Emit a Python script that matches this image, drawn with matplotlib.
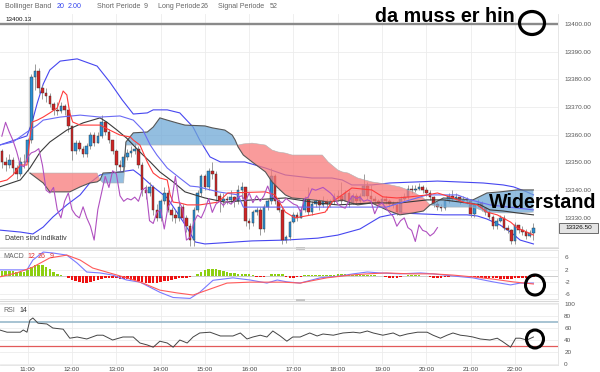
import numpy as np
import matplotlib
matplotlib.use("Agg")
import matplotlib.pyplot as plt
from matplotlib.patches import Ellipse, Rectangle

plt.rcParams['font.family'] = ['Liberation Sans', 'DejaVu Sans']

# ---------------- data ----------------
candle_start = "10:25"      # 5-minute candles
first_open = 13354.0
closes = [13350, 13349, 13351, 13348, 13346, 13350, 13350, 13358, 13381, 13383,
          13377, 13375, 13374, 13371, 13369, 13368.5, 13370.5, 13369, 13363, 13354,
          13357, 13355, 13353, 13356, 13360, 13357, 13359.5, 13364.5, 13361, 13358,
          13354, 13349, 13348.5, 13352, 13353.5, 13354, 13355, 13349, 13340, 13339,
          13341, 13333, 13330, 13336, 13339, 13333, 13331, 13330, 13334, 13330,
          13327, 13322, 13333, 13339, 13345, 13341, 13347, 13346, 13338, 13336,
          13337, 13336.5, 13337.5, 13336, 13340, 13341, 13329, 13328, 13332, 13333,
          13326, 13334, 13336, 13345, 13336, 13333, 13322, 13323, 13328.5, 13331,
          13330, 13333, 13337, 13332, 13335, 13336, 13334.5, 13336, 13335, 13336,
          13337.5, 13338, 13336, 13339, 13335.5, 13338, 13336, 13338, 13341.5, 13338,
          13337, 13336, 13335.5, 13337, 13336, 13335, 13334.5, 13332, 13337, 13337.5,
          13340.5, 13340, 13340.5, 13341, 13340, 13339, 13337.5, 13335, 13334, 13333.5,
          13336, 13338, 13337, 13337.5, 13336, 13336.5, 13336, 13331.5, 13334.5, 13335.5,
          13333.5, 13332, 13330.5, 13327, 13329, 13330, 13326.5, 13325.5, 13321.5, 13327.5,
          13325.5, 13325, 13323.5, 13324.5, 13326.5]
highs = [13355, 13352, 13353, 13352, 13349, 13352, 13353, 13359, 13382, 13385.5,
         13384, 13378, 13377, 13375, 13372, 13372, 13372, 13371, 13369, 13363,
         13358, 13358, 13356, 13357, 13361, 13361, 13361, 13367, 13365, 13362,
         13358, 13355, 13351, 13353, 13355, 13356, 13357, 13356, 13350, 13342,
         13343, 13342, 13335, 13337, 13341, 13340, 13334, 13333, 13336, 13335,
         13331, 13328, 13334, 13340, 13346, 13346, 13348, 13350, 13347, 13339,
         13339, 13338, 13340, 13338, 13342, 13343, 13341, 13330, 13333, 13334,
         13334, 13335, 13337, 13348, 13346, 13337, 13334, 13324, 13329, 13332,
         13332, 13334, 13338, 13341, 13336, 13337, 13337, 13338, 13337, 13337,
         13339, 13340, 13343, 13340, 13340, 13339, 13339, 13339, 13346, 13343,
         13342, 13338, 13337, 13338, 13338, 13337, 13336, 13336, 13338, 13339,
         13342, 13342, 13342, 13342.5, 13342, 13341, 13340, 13338, 13336, 13335,
         13337, 13339, 13340, 13339, 13338, 13338, 13337.5, 13336.5, 13335.5, 13337,
         13336, 13334, 13333, 13331, 13330, 13331, 13331, 13327.5, 13326, 13328.5,
         13327.5, 13327, 13326, 13325.5, 13328]
lows = [13348, 13347, 13348, 13346, 13344, 13345, 13348, 13347, 13357, 13376,
        13375, 13373, 13372, 13370, 13367, 13367, 13368, 13367, 13361, 13351,
        13353, 13354, 13352, 13352, 13355, 13356, 13357, 13359, 13360, 13357,
        13353, 13347, 13347, 13348, 13351, 13352, 13353, 13348, 13338, 13337,
        13338, 13331, 13329, 13329, 13335, 13332, 13329, 13328, 13329, 13329,
        13325, 13320, 13320, 13332, 13338, 13340, 13340, 13344, 13336, 13332,
        13334, 13335, 13335, 13334, 13335, 13337, 13327, 13326, 13327, 13331,
        13324, 13325, 13333, 13335, 13335, 13332, 13320.5, 13321, 13322, 13328,
        13329, 13330, 13332, 13331, 13331, 13334, 13333, 13334, 13333, 13334,
        13335, 13336, 13335, 13336, 13334, 13335, 13335, 13335, 13338, 13337,
        13336, 13335, 13334.5, 13335, 13335, 13334, 13333.5, 13331, 13331.5, 13336,
        13337, 13339, 13339.5, 13340, 13339, 13338, 13336.5, 13334, 13333, 13332.5,
        13333, 13335.5, 13336, 13336, 13335, 13335.5, 13335, 13330.5, 13330.5, 13334,
        13332.5, 13331, 13329.5, 13326, 13326, 13328.5, 13325.5, 13324.5, 13320.5, 13320.5,
        13324.5, 13324, 13322.5, 13323, 13322]

bb_upper_t = ["10:22", "10:59", "11:06", "11:13", "11:21", "11:30", "11:44", "12:07", "12:34", "12:51",
              "13:08", "13:23", "13:42", "13:50", "14:09", "14:26", "14:44", "14:53", "15:07", "15:21",
              "15:54", "16:22", "16:49", "17:25", "17:52", "18:06", "18:19", "18:46", "19:10", "19:48",
              "20:15", "20:42", "21:17", "21:44", "21:58", "22:16", "22:25"]
bb_upper_v = [13356.3, 13359.6, 13364.6, 13371.5, 13378.3, 13383.4, 13386.6, 13387.4, 13384.8, 13379.1,
              13372.6, 13367.5, 13367.9, 13369.0, 13369.0, 13367.9, 13362.8, 13358.1, 13352.0, 13350.2,
              13350.2, 13348.0, 13345.5, 13344.4, 13344.4, 13343.7, 13341.9, 13341.9, 13342.6, 13343.0,
              13343.3, 13343.0, 13342.6, 13341.9, 13341.2, 13339.4, 13338.3]
bb_mid_t = ["10:22", "10:50", "11:03", "11:17", "11:30", "11:53", "12:15", "12:38", "12:47", "13:01",
            "13:14", "13:32", "13:46", "13:59", "14:17", "14:33", "15:00", "15:27", "16:04", "16:49",
            "17:33", "18:00", "18:46", "19:24", "20:01", "20:23", "20:55", "21:13", "21:26", "21:44",
            "22:03", "22:25"]
bb_mid_v = [13341.2, 13343.7, 13348.0, 13353.8, 13357.4, 13361.7, 13364.3, 13366.1, 13364.6, 13361.7,
            13358.8, 13353.8, 13350.2, 13346.6, 13343.0, 13339.4, 13337.2, 13335.7, 13336.5, 13337.2,
            13335.4, 13334.7, 13335.4, 13335.4, 13336.5, 13336.5, 13335.4, 13334.7, 13332.9, 13332.5,
            13331.8, 13331.1]
bb_lower_t = ["10:22", "10:50", "11:07", "11:21", "11:34", "11:53", "12:11", "12:24", "12:38", "13:05",
              "13:23", "13:32", "13:50", "14:09", "14:22", "14:36", "14:47", "15:00", "16:04", "16:49",
              "17:33", "18:00", "18:30", "18:57", "19:24", "19:48", "20:23", "20:55", "21:09", "21:22",
              "21:40", "21:54", "22:07", "22:25"]
bb_lower_v = [13325.6, 13324.9, 13324.2, 13326.7, 13330.3, 13334.7, 13338.3, 13342.6, 13345.5, 13346.6,
              13347.3, 13345.5, 13341.2, 13337.2, 13332.1, 13326.4, 13321.3, 13320.6, 13321.7, 13322.0,
              13322.7, 13323.8, 13326.0, 13330.3, 13331.8, 13331.5, 13331.1, 13331.1, 13330.7, 13329.6,
              13327.4, 13324.9, 13322.0, 13320.6]

tenkan_t = ["10:22", "10:32", "10:40", "10:50", "10:59", "11:03", "11:06", "11:13", "11:21", "11:30",
            "11:40", "11:48", "11:53", "11:55", "11:57", "12:01", "12:11", "12:28", "12:38", "12:51",
            "13:05", "13:19", "13:23", "13:32", "13:42", "13:50", "13:59", "14:09", "14:13", "14:17",
            "14:26", "14:36", "14:53", "15:18", "15:31", "16:22", "16:35", "16:49", "17:02", "17:25",
            "17:43", "17:52", "18:06", "18:19", "18:46", "19:01", "19:20", "19:38", "20:01", "20:15",
            "20:32", "20:50", "21:09", "21:22", "21:36", "21:54", "22:03", "22:16", "22:25"]
tenkan_v = [13343.0, 13343.7, 13345.5, 13349.1, 13349.1, 13358.8, 13364.6, 13365.3, 13366.4, 13367.9,
            13369.7, 13375.8, 13374.4, 13371.1, 13367.9, 13364.6, 13363.5, 13363.5, 13363.5, 13361.7,
            13359.9, 13359.2, 13358.1, 13356.3, 13350.2, 13346.2, 13344.4, 13343.7, 13338.3, 13335.7,
            13335.4, 13334.7, 13334.7, 13335.7, 13339.0, 13339.4, 13338.3, 13332.1, 13330.0, 13331.1,
            13332.1, 13335.7, 13338.3, 13340.8, 13340.1, 13337.6, 13337.2, 13337.6, 13338.3, 13339.0,
            13337.6, 13335.7, 13334.7, 13332.1, 13331.1, 13328.5, 13326.4, 13324.9, 13323.8]
kijun_t = ["10:22", "10:40", "10:59", "11:13", "11:21", "11:44", "12:11", "12:38", "13:05", "13:23",
           "13:36", "13:46", "13:55", "14:09", "14:26", "14:40", "14:51", "15:18", "15:45", "15:52",
           "16:49", "17:20", "18:44", "19:06", "19:28", "20:01", "20:42", "21:00", "21:26", "22:25"]
kijun_v = [13356.3, 13357.4, 13361.0, 13363.5, 13365.3, 13366.4, 13367.1, 13366.4, 13366.8, 13365.3,
           13361.7, 13356.3, 13352.7, 13348.0, 13344.4, 13341.5, 13341.2, 13339.4, 13338.3, 13333.9,
           13333.9, 13333.9, 13333.9, 13333.9, 13335.7, 13338.3, 13338.3, 13336.5, 13334.7, 13332.9]
chikou_shift = 26

span_t = ["11:03", "11:21", "11:30", "11:57", "12:11", "12:24", "12:34", "12:38", "12:42", "13:10",
          "13:13", "13:23", "13:42", "13:50", "13:59", "14:09", "14:22", "14:33", "15:00", "15:10",
          "15:27", "15:37", "15:41", "15:45", "15:52", "16:04", "16:22", "16:31", "16:39", "16:49",
          "16:58", "17:12", "17:25", "17:39", "17:47", "18:00", "18:06", "18:14", "18:27", "18:46",
          "19:06", "19:24", "19:42", "19:56", "20:05", "20:23", "21:03", "21:22", "21:40", "22:03",
          "22:25"]
span_a = [13346.2, 13342.6, 13339.4, 13339.4, 13341.2, 13342.6, 13343.0, 13343.7, 13346.2, 13346.6,
          13357.4, 13360.7, 13361.0, 13362.8, 13366.1, 13365.3, 13364.3, 13363.5, 13363.2, 13362.5,
          13361.7, 13359.9, 13358.1, 13355.6, 13352.7, 13350.2, 13346.6, 13343.0, 13340.8, 13338.3,
          13337.2, 13336.9, 13336.5, 13336.1, 13335.7, 13336.1, 13336.5, 13335.7, 13334.7, 13335.4,
          13332.9, 13331.1, 13331.8, 13332.5, 13334.7, 13337.2, 13336.5, 13339.0, 13339.4, 13340.1,
          13340.1]
span_b = [13346.2, 13346.2, 13346.2, 13346.2, 13346.2, 13346.2, 13346.2, 13343.7, 13342.6, 13342.6,
          13356.3, 13356.3, 13356.3, 13356.3, 13356.3, 13356.3, 13356.3, 13356.3, 13356.3, 13356.3,
          13356.3, 13356.3, 13356.3, 13356.3, 13356.7, 13357.0, 13356.3, 13354.5, 13353.8, 13353.4,
          13352.7, 13352.7, 13352.7, 13352.7, 13350.2, 13347.3, 13346.6, 13346.2, 13344.4, 13343.0,
          13342.2, 13341.2, 13339.4, 13337.2, 13334.7, 13333.9, 13333.9, 13332.1, 13331.8, 13331.8,
          13332.1]

macd_t = ["10:22", "10:59", "11:07", "11:21", "11:34", "11:53", "12:07", "12:20", "12:38", "12:55",
          "13:14", "13:32", "13:46", "13:59", "14:17", "14:40", "14:53", "15:11", "15:38", "16:01",
          "16:15", "16:24", "16:38", "16:51", "17:09", "17:36", "18:03", "18:21", "18:40", "18:57",
          "19:24", "19:52", "20:09", "20:36", "21:03", "21:30", "21:54", "22:07", "22:25"]
macd_v = [1.9, 1.9, 5.1, 7.7, 7.4, 6.7, 4.1, 1.2, 0.9, 0.2,
          -1.4, -2.1, -3.8, -5.4, -7.1, -7.4, -5.4, -1.5, -0.7, -1.4,
          -2.0, -2.4, -1.4, -2.0, -2.4, -0.7, -0.1, 0.6, 1.2, 0.9,
          0.6, 0.9, 0.6, -0.1, -0.7, -2.0, -3.0, -2.4, -2.4]
signal_t = ["10:22", "10:45", "11:07", "11:30", "11:53", "12:11", "12:28", "12:51", "13:14", "13:36",
            "13:59", "14:22", "14:44", "15:03", "15:30", "16:01", "16:24", "16:46", "17:09", "17:45",
            "18:17", "18:40", "19:06", "19:38", "20:09", "20:36", "21:03", "21:30", "21:57", "22:25"]
signal_v = [-0.4, 0.9, 2.8, 5.8, 6.7, 5.1, 2.5, 0.9, -0.7, -2.4,
            -4.7, -5.6, -6.3, -4.7, -2.4, -2.1, -2.1, -2.1, -2.4, -0.7,
            0.2, 0.6, 0.9, 0.6, 0.6, 0.2, -0.4, -1.1, -2.0, -2.7]
macd_hist = [1.6, 1.5, 1.4, 1.4, 1.2, 1.2, 1.3, 1.8, 2.7, 3.4, 3.6, 3.4, 2.7, 2.1, 1.2, 0.5, 0.1,
             -0.2, -0.6, -1.3, -1.8, -2.2, -2.5, -2.4, -2.1, -1.8, -1.4, -1.1, -0.9, -0.8, -0.8, -0.9, -1.0,
             -1.1, -1.2, -1.3, -1.5, -1.8, -2.2, -2.4, -2.5, -2.5, -2.3, -2.0, -1.8, -1.6, -1.3, -1.1, -0.9,
             -0.8, -0.6, -0.4, -0.2,
             0.5, 1.2, 1.7, 2.1, 2.3, 2.3, 2.0, 1.6, 1.3, 1.0, 0.9, 0.7, 0.6, 0.5, 0.5, 0.3,
             -0.3, -0.4, -0.4, -0.1, 0.4, 0.7, 0.7, 0.4, -0.3, -0.6, -0.6, -0.5,
             -0.3, 0.1, 0.2, 0.3, 0.3, 0.3, 0.3, 0.3, 0.3, 0.3,
             0.6, 0.7, 0.7, 0.5, 0.3, 0.3, 0.2, 0.2, 0.2, 0.1,
             0.1, 0.0, -0.2, -0.4, -0.6, -0.7, -0.6, -0.4,
             0.0, 0.1, 0.1, 0.1, 0.1, 0.0, 0.0,
             -0.3, -0.6, -0.7, -0.6, -0.5, -0.3,
             -0.1, 0.0, 0.0, -0.1, -0.2,
             -0.4, -0.5, -0.6, -0.7, -0.8, -0.8, -0.9, -0.9, -1.0, -1.0, -1.0, -1.0, -0.9, -0.9, -0.8,
             -0.7, -0.6, -0.5]

rsi_t = ["10:22", "10:32", "10:40", "10:50", "10:54", "10:59", "11:03", "11:07", "11:14", "11:26",
         "11:34", "11:48", "11:57", "12:07", "12:20", "12:34", "12:42", "12:55", "13:09", "13:23",
         "13:32", "13:42", "13:50", "13:59", "14:09", "14:17", "14:26", "14:36", "14:44", "14:53",
         "15:07", "15:21", "15:38", "15:48", "15:57", "16:05", "16:15", "16:24", "16:32", "16:42",
         "16:51", "16:59", "17:09", "17:22", "17:32", "17:40", "17:54", "18:07", "18:21", "18:30",
         "18:40", "18:48", "19:01", "19:15", "19:24", "19:34", "19:48", "20:01", "20:09", "20:19",
         "20:28", "20:36", "20:46", "20:55", "21:03", "21:13", "21:26", "21:36", "21:44", "21:54",
         "22:01", "22:07", "22:16", "22:25"]
rsi_v = [56.7, 53, 53, 53, 56.7, 53, 73, 76.7, 68, 66.7,
         60, 58, 43, 45, 41.7, 48, 48, 40, 45, 45,
         35, 31.7, 28, 38, 35, 28, 40, 35, 45, 51.7,
         53, 46.7, 46.7, 51.7, 41.7, 45, 48, 45, 55, 46.7,
         38, 45, 45, 51.7, 46.7, 50, 48, 51.7, 53, 51.7,
         55, 51.7, 48, 51.7, 46.7, 50, 53, 53, 48, 43,
         48, 51.7, 48, 46.7, 45, 41.7, 40, 43, 36.7, 28,
         43, 43, 40, 45]

price_ticks = [13330, 13340, 13350, 13360, 13370, 13380, 13390, 13400]
macd_ticks = [6, 2, -2, -6]
rsi_ticks = [0, 20, 40, 60, 80, 100]
hour_ticks = list(range(11, 23))
ref_line = 13400.13


def hm(s):
    h, m = s.split(":")
    return int(h) + int(m) / 60.0


def hours(lst):
    return np.array([hm(s) for s in lst])


# ---------------- layout ----------------
W, H = 600, 372
fig = plt.figure(figsize=(6, 3.72), dpi=100)
fig.patch.set_facecolor("white")


def box(x0, y0, x1, y1):
    return [x0 / W, 1 - y1 / H, (x1 - x0) / W, (y1 - y0) / H]


ax = fig.add_axes(box(0, 14, 558, 247))
axm = fig.add_axes(box(0, 250, 558, 299))
axr = fig.add_axes(box(0, 303, 558, 365))

xlim = (10.3747, 22.971)
grid_c = "#ececec"
lab_c = "#555555"
for a in (ax, axm, axr):
    a.set_xlim(*xlim)
    a.set_xticks(hour_ticks)
    a.grid(True, color=grid_c, lw=0.6)
    a.set_axisbelow(True)
    a.yaxis.tick_right()
    a.tick_params(axis="y", length=0, pad=4.5, labelsize=4.6, labelcolor=lab_c)
    a.tick_params(axis="x", length=0)
    for s in a.spines.values():
        s.set_color("#e2e2e2")
        s.set_linewidth(0.6)
    a.spines["left"].set_visible(False)
for a in (ax, axm):
    a.tick_params(axis="x", labelbottom=False)
axr.set_xticklabels([f"{h}:00" for h in hour_ticks])
axr.tick_params(axis="x", labelsize=4.6, labelcolor="#444444", pad=1.2)
ax.spines["top"].set_visible(False)

# ---------------- main panel ----------------
ax.set_ylim(13319.5, 13403.6)
ax.set_yticks(price_ticks)
ax.set_yticklabels([f"{v:.2f}" for v in price_ticks])
ax.axhline(ref_line, color="#8a8a8a", lw=1.7, zorder=1)

blue = "#4646f0"
ax.plot(hours(bb_upper_t), bb_upper_v, color=blue, lw=0.8, zorder=2)
ax.plot(hours(bb_lower_t), bb_lower_v, color=blue, lw=0.8, zorder=2)

n = len(closes)
c = np.array(closes, float)
o = np.concatenate([[first_open], c[:-1]])
hi = np.maximum(np.array(highs, float), np.maximum(o, c))
lo = np.minimum(np.array(lows, float), np.minimum(o, c))
tc = hm(candle_start) + np.arange(n) * 5 / 60.0
up = c >= o
blo = np.minimum(o, c)
bh = np.maximum(np.abs(c - o), 0.3)
ax.vlines(tc, lo, hi, color="#8c8c8c", lw=0.6, zorder=3)
ax.bar(tc[up], bh[up], bottom=blo[up], width=0.058, color="#2a8fd4",
       edgecolor="#333333", linewidth=0.3, zorder=4)
ax.bar(tc[~up], bh[~up], bottom=blo[~up], width=0.058, color="#cf2424",
       edgecolor="#333333", linewidth=0.3, zorder=4)

st = hours(span_t)
sa = np.array(span_a)
sb = np.array(span_b)
ax.fill_between(st, sa, sb, where=sa >= sb, interpolate=True, color="#6fa8d6",
                alpha=0.75, lw=0, zorder=5)
ax.fill_between(st, sa, sb, where=sa < sb, interpolate=True, color="#f77a7a",
                alpha=0.75, lw=0, zorder=5)
ax.plot(st, sb, color="#b0b0b0", lw=0.4, zorder=5)
ax.plot(st, sa, color="#555555", lw=0.8, zorder=6)

ax.plot(hours(bb_mid_t), bb_mid_v, color="#3a3a3a", lw=0.8, zorder=7)
ax.plot(hours(kijun_t), kijun_v, color="#6a6af5", lw=0.8, zorder=7)
ax.plot(hours(tenkan_t), tenkan_v, color="#ff3b3b", lw=0.8, zorder=7)
ax.plot(tc[:-chikou_shift], c[chikou_shift:], color="#b050c0", lw=0.8, zorder=7)

# ---------------- MACD ----------------
axm.set_ylim(-7.59, 8.37)
axm.set_yticks(macd_ticks)
axm.set_yticklabels([str(v) for v in macd_ticks])
axm.axhline(0, color="#c4c4c4", lw=0.6, zorder=1)
hv = np.array(macd_hist)
axm.bar(tc, hv, width=0.058, color=np.where(hv >= 0, "#8ccf10", "#ee1111"), lw=0, zorder=2)
axm.plot(hours(macd_t), macd_v, color="#7a7aff", lw=0.8, zorder=3)
axm.plot(hours(signal_t), signal_v, color="#ff5a5a", lw=0.8, zorder=3)

# ---------------- RSI ----------------
axr.set_ylim(-1.67, 101.67)
axr.set_yticks(rsi_ticks)
axr.set_yticklabels([str(v) for v in rsi_ticks])
axr.axhline(70, color="#8fb3c6", lw=1.1, zorder=1)
axr.axhline(30, color="#e25a5a", lw=0.9, zorder=1)
axr.plot(hours(rsi_t), rsi_v, color="#444444", lw=0.7, zorder=3)

# ---------------- overlay: texts & annotations ----------------
ov = fig.add_axes([0, 0, 1, 1], zorder=10)
ov.set_xlim(0, W)
ov.set_ylim(H, 0)
ov.axis("off")
ov.patch.set_alpha(0)

g = "#666666"
b2 = "#3344ee"
fs = 5.1
ov.text(5, 6.5, "Bollinger Band", color=g, fontsize=fs, va="center")
ov.text(57, 6.5, "20", color=b2, fontsize=fs, va="center")
ov.text(68, 6.5, "2.00", color=b2, fontsize=fs, va="center")
ov.text(97, 6.5, "Short Periode", color=g, fontsize=fs, va="center")
ov.text(144, 6.5, "9", color=g, fontsize=fs, va="center")
ov.text(158, 6.5, "Long Periode", color=g, fontsize=fs, va="center")
ov.text(201, 6.5, "26", color=g, fontsize=fs, va="center")
ov.text(218, 6.5, "Signal Periode", color=g, fontsize=fs, va="center")
ov.text(270, 6.5, "52", color=g, fontsize=fs, va="center")
ov.text(5, 19.5, f"{ref_line:.2f}", color="#111111", fontsize=4.5, va="center")
ov.text(5, 238, "Daten sind indikativ", color="#333333", fontsize=5.0, va="center")

ov.text(3, 256, "MACD", color=g, fontsize=5.0, va="center")
ov.text(27, 256, "12", color="#e03030", fontsize=5.0, va="center")
ov.text(38, 256, "26", color="#e03030", fontsize=5.0, va="center")
ov.text(50, 256, "9", color="#e03030", fontsize=5.0, va="center")
ov.text(3, 311, "RSI", color=g, fontsize=5.0, va="center")
ov.text(19, 311, "14", color="#333333", fontsize=5.0, va="center")

# last price tag
last = closes[-1]
ypix = H - ax.transData.transform((xlim[0], last))[1]
ov.add_patch(Rectangle((559, ypix - 5), 39, 10.5, fc="#e4e4e4", ec="#555555", lw=0.6))
ov.text(578.5, ypix + 0.3, f"{last:.2f}", fontsize=4.6, ha="center", va="center", color="#111111")

# panel separators / handles
for yy in (248, 300.5):
    ov.plot([0, 558], [yy, yy], color="#d8d8d8", lw=0.8)
    ov.add_patch(Rectangle((296, yy - 1.5), 9, 3, fc="#c6c6c6", ec="none"))

# hand-drawn annotations
ov.text(375, 21.5, "da muss er hin", fontsize=14.2, fontweight="bold", color="black",
        va="baseline", ha="left")
ov.text(489, 208.5, "Widerstand", fontsize=14.2, fontweight="bold", color="black",
        va="baseline", ha="left")
ov.add_patch(Ellipse((532, 23), 25, 23, fill=False, ec="black", lw=2.3))
ov.add_patch(Ellipse((535, 285), 19, 20, fill=False, ec="black", lw=2.2))
ov.add_patch(Ellipse((535, 339), 17, 18, fill=False, ec="black", lw=2.2))

fig.savefig("out.png", dpi=100)
